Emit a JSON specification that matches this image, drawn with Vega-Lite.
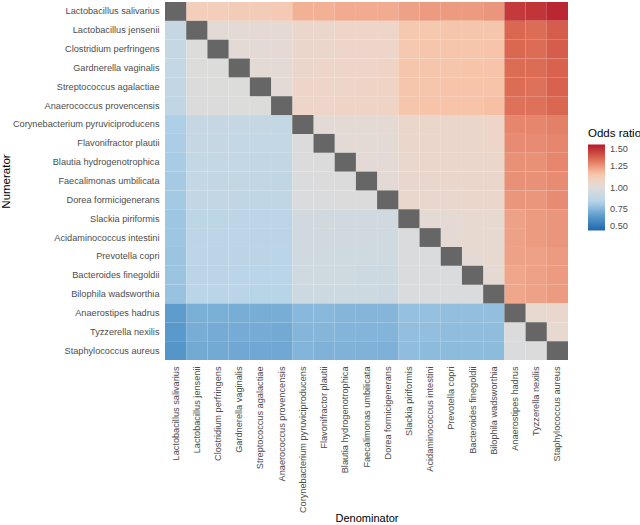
{
"$schema": "https://vega.github.io/schema/vega-lite/v6.json",
"width": 403, "height": 358,
"autosize": {"type": "none"},
"padding": {"left": 165, "top": 2, "right": 72, "bottom": 165},
"background": "white",
"config": {"view": {"stroke": null}, "font": "Liberation Sans", "legend": {"titleFontWeight": "normal"}, "axis": {"titleFontWeight": "normal"}},
"datasets": {
"species": [
{"k":0,"name":"Lactobacillus salivarius"},{"k":1,"name":"Lactobacillus jensenii"},{"k":2,"name":"Clostridium perfringens"},{"k":3,"name":"Gardnerella vaginalis"},{"k":4,"name":"Streptococcus agalactiae"},{"k":5,"name":"Anaerococcus provencensis"},{"k":6,"name":"Corynebacterium pyruviciproducens"},{"k":7,"name":"Flavonifractor plautii"},{"k":8,"name":"Blautia hydrogenotrophica"},{"k":9,"name":"Faecalimonas umbilicata"},{"k":10,"name":"Dorea formicigenerans"},{"k":11,"name":"Slackia piriformis"},{"k":12,"name":"Acidaminococcus intestini"},{"k":13,"name":"Prevotella copri"},{"k":14,"name":"Bacteroides finegoldii"},{"k":15,"name":"Bilophila wadsworthia"},{"k":16,"name":"Anaerostipes hadrus"},{"k":17,"name":"Tyzzerella nexilis"},{"k":18,"name":"Staphylococcus aureus"}
],
"cells": [
{"i":0,"j":0,"or":null},{"i":0,"j":1,"or":1.11},{"i":0,"j":2,"or":1.11},{"i":0,"j":3,"or":1.12},{"i":0,"j":4,"or":1.12},{"i":0,"j":5,"or":1.13},{"i":0,"j":6,"or":1.2},{"i":0,"j":7,"or":1.2},{"i":0,"j":8,"or":1.21},{"i":0,"j":9,"or":1.21},{"i":0,"j":10,"or":1.21},{"i":0,"j":11,"or":1.23},{"i":0,"j":12,"or":1.24},{"i":0,"j":13,"or":1.24},{"i":0,"j":14,"or":1.24},{"i":0,"j":15,"or":1.25},{"i":0,"j":16,"or":1.43},{"i":0,"j":17,"or":1.44},{"i":0,"j":18,"or":1.47},
{"i":1,"j":0,"or":0.9},{"i":1,"j":1,"or":null},{"i":1,"j":2,"or":1.02},{"i":1,"j":3,"or":1.02},{"i":1,"j":4,"or":1.03},{"i":1,"j":5,"or":1.03},{"i":1,"j":6,"or":1.06},{"i":1,"j":7,"or":1.06},{"i":1,"j":8,"or":1.07},{"i":1,"j":9,"or":1.07},{"i":1,"j":10,"or":1.07},{"i":1,"j":11,"or":1.14},{"i":1,"j":12,"or":1.14},{"i":1,"j":13,"or":1.15},{"i":1,"j":14,"or":1.15},{"i":1,"j":15,"or":1.15},{"i":1,"j":16,"or":1.34},{"i":1,"j":17,"or":1.33},{"i":1,"j":18,"or":1.36},
{"i":2,"j":0,"or":0.895},{"i":2,"j":1,"or":0.99},{"i":2,"j":2,"or":null},{"i":2,"j":3,"or":1.02},{"i":2,"j":4,"or":1.02},{"i":2,"j":5,"or":1.03},{"i":2,"j":6,"or":1.06},{"i":2,"j":7,"or":1.06},{"i":2,"j":8,"or":1.07},{"i":2,"j":9,"or":1.07},{"i":2,"j":10,"or":1.07},{"i":2,"j":11,"or":1.14},{"i":2,"j":12,"or":1.15},{"i":2,"j":13,"or":1.15},{"i":2,"j":14,"or":1.15},{"i":2,"j":15,"or":1.16},{"i":2,"j":16,"or":1.34},{"i":2,"j":17,"or":1.33},{"i":2,"j":18,"or":1.36},
{"i":3,"j":0,"or":0.89},{"i":3,"j":1,"or":0.99},{"i":3,"j":2,"or":0.99},{"i":3,"j":3,"or":null},{"i":3,"j":4,"or":1.02},{"i":3,"j":5,"or":1.02},{"i":3,"j":6,"or":1.06},{"i":3,"j":7,"or":1.07},{"i":3,"j":8,"or":1.07},{"i":3,"j":9,"or":1.07},{"i":3,"j":10,"or":1.08},{"i":3,"j":11,"or":1.15},{"i":3,"j":12,"or":1.15},{"i":3,"j":13,"or":1.15},{"i":3,"j":14,"or":1.16},{"i":3,"j":15,"or":1.16},{"i":3,"j":16,"or":1.33},{"i":3,"j":17,"or":1.33},{"i":3,"j":18,"or":1.35},
{"i":4,"j":0,"or":0.885},{"i":4,"j":1,"or":0.985},{"i":4,"j":2,"or":0.99},{"i":4,"j":3,"or":0.99},{"i":4,"j":4,"or":null},{"i":4,"j":5,"or":1.02},{"i":4,"j":6,"or":1.07},{"i":4,"j":7,"or":1.07},{"i":4,"j":8,"or":1.07},{"i":4,"j":9,"or":1.08},{"i":4,"j":10,"or":1.08},{"i":4,"j":11,"or":1.15},{"i":4,"j":12,"or":1.15},{"i":4,"j":13,"or":1.16},{"i":4,"j":14,"or":1.16},{"i":4,"j":15,"or":1.16},{"i":4,"j":16,"or":1.33},{"i":4,"j":17,"or":1.32},{"i":4,"j":18,"or":1.35},
{"i":5,"j":0,"or":0.88},{"i":5,"j":1,"or":0.985},{"i":5,"j":2,"or":0.985},{"i":5,"j":3,"or":0.99},{"i":5,"j":4,"or":0.99},{"i":5,"j":5,"or":null},{"i":5,"j":6,"or":1.07},{"i":5,"j":7,"or":1.07},{"i":5,"j":8,"or":1.08},{"i":5,"j":9,"or":1.08},{"i":5,"j":10,"or":1.08},{"i":5,"j":11,"or":1.15},{"i":5,"j":12,"or":1.16},{"i":5,"j":13,"or":1.16},{"i":5,"j":14,"or":1.16},{"i":5,"j":15,"or":1.17},{"i":5,"j":16,"or":1.32},{"i":5,"j":17,"or":1.32},{"i":5,"j":18,"or":1.34},
{"i":6,"j":0,"or":0.82},{"i":6,"j":1,"or":0.9},{"i":6,"j":2,"or":0.9},{"i":6,"j":3,"or":0.895},{"i":6,"j":4,"or":0.895},{"i":6,"j":5,"or":0.89},{"i":6,"j":6,"or":null},{"i":6,"j":7,"or":1.02},{"i":6,"j":8,"or":1.02},{"i":6,"j":9,"or":1.02},{"i":6,"j":10,"or":1.03},{"i":6,"j":11,"or":1.06},{"i":6,"j":12,"or":1.06},{"i":6,"j":13,"or":1.06},{"i":6,"j":14,"or":1.06},{"i":6,"j":15,"or":1.07},{"i":6,"j":16,"or":1.28},{"i":6,"j":17,"or":1.28},{"i":6,"j":18,"or":1.29},
{"i":7,"j":0,"or":0.815},{"i":7,"j":1,"or":0.895},{"i":7,"j":2,"or":0.895},{"i":7,"j":3,"or":0.89},{"i":7,"j":4,"or":0.89},{"i":7,"j":5,"or":0.89},{"i":7,"j":6,"or":0.985},{"i":7,"j":7,"or":null},{"i":7,"j":8,"or":1.02},{"i":7,"j":9,"or":1.02},{"i":7,"j":10,"or":1.02},{"i":7,"j":11,"or":1.06},{"i":7,"j":12,"or":1.06},{"i":7,"j":13,"or":1.06},{"i":7,"j":14,"or":1.06},{"i":7,"j":15,"or":1.07},{"i":7,"j":16,"or":1.27},{"i":7,"j":17,"or":1.27},{"i":7,"j":18,"or":1.28},
{"i":8,"j":0,"or":0.81},{"i":8,"j":1,"or":0.89},{"i":8,"j":2,"or":0.89},{"i":8,"j":3,"or":0.89},{"i":8,"j":4,"or":0.885},{"i":8,"j":5,"or":0.885},{"i":8,"j":6,"or":0.985},{"i":8,"j":7,"or":0.985},{"i":8,"j":8,"or":null},{"i":8,"j":9,"or":1.02},{"i":8,"j":10,"or":1.02},{"i":8,"j":11,"or":1.05},{"i":8,"j":12,"or":1.06},{"i":8,"j":13,"or":1.06},{"i":8,"j":14,"or":1.06},{"i":8,"j":15,"or":1.06},{"i":8,"j":16,"or":1.26},{"i":8,"j":17,"or":1.26},{"i":8,"j":18,"or":1.28},
{"i":9,"j":0,"or":0.805},{"i":9,"j":1,"or":0.89},{"i":9,"j":2,"or":0.885},{"i":9,"j":3,"or":0.885},{"i":9,"j":4,"or":0.885},{"i":9,"j":5,"or":0.88},{"i":9,"j":6,"or":0.98},{"i":9,"j":7,"or":0.985},{"i":9,"j":8,"or":0.985},{"i":9,"j":9,"or":null},{"i":9,"j":10,"or":1.02},{"i":9,"j":11,"or":1.05},{"i":9,"j":12,"or":1.05},{"i":9,"j":13,"or":1.06},{"i":9,"j":14,"or":1.06},{"i":9,"j":15,"or":1.06},{"i":9,"j":16,"or":1.26},{"i":9,"j":17,"or":1.26},{"i":9,"j":18,"or":1.27},
{"i":10,"j":0,"or":0.8},{"i":10,"j":1,"or":0.885},{"i":10,"j":2,"or":0.885},{"i":10,"j":3,"or":0.88},{"i":10,"j":4,"or":0.88},{"i":10,"j":5,"or":0.88},{"i":10,"j":6,"or":0.98},{"i":10,"j":7,"or":0.98},{"i":10,"j":8,"or":0.985},{"i":10,"j":9,"or":0.985},{"i":10,"j":10,"or":null},{"i":10,"j":11,"or":1.05},{"i":10,"j":12,"or":1.05},{"i":10,"j":13,"or":1.05},{"i":10,"j":14,"or":1.06},{"i":10,"j":15,"or":1.06},{"i":10,"j":16,"or":1.25},{"i":10,"j":17,"or":1.25},{"i":10,"j":18,"or":1.27},
{"i":11,"j":0,"or":0.79},{"i":11,"j":1,"or":0.865},{"i":11,"j":2,"or":0.865},{"i":11,"j":3,"or":0.86},{"i":11,"j":4,"or":0.86},{"i":11,"j":5,"or":0.86},{"i":11,"j":6,"or":0.945},{"i":11,"j":7,"or":0.945},{"i":11,"j":8,"or":0.94},{"i":11,"j":9,"or":0.94},{"i":11,"j":10,"or":0.94},{"i":11,"j":11,"or":null},{"i":11,"j":12,"or":1.03},{"i":11,"j":13,"or":1.03},{"i":11,"j":14,"or":1.04},{"i":11,"j":15,"or":1.04},{"i":11,"j":16,"or":1.23},{"i":11,"j":17,"or":1.24},{"i":11,"j":18,"or":1.25},
{"i":12,"j":0,"or":0.79},{"i":12,"j":1,"or":0.86},{"i":12,"j":2,"or":0.86},{"i":12,"j":3,"or":0.86},{"i":12,"j":4,"or":0.855},{"i":12,"j":5,"or":0.855},{"i":12,"j":6,"or":0.94},{"i":12,"j":7,"or":0.94},{"i":12,"j":8,"or":0.94},{"i":12,"j":9,"or":0.94},{"i":12,"j":10,"or":0.935},{"i":12,"j":11,"or":0.98},{"i":12,"j":12,"or":null},{"i":12,"j":13,"or":1.03},{"i":12,"j":14,"or":1.04},{"i":12,"j":15,"or":1.04},{"i":12,"j":16,"or":1.23},{"i":12,"j":17,"or":1.24},{"i":12,"j":18,"or":1.25},
{"i":13,"j":0,"or":0.785},{"i":13,"j":1,"or":0.86},{"i":13,"j":2,"or":0.855},{"i":13,"j":3,"or":0.855},{"i":13,"j":4,"or":0.855},{"i":13,"j":5,"or":0.85},{"i":13,"j":6,"or":0.94},{"i":13,"j":7,"or":0.935},{"i":13,"j":8,"or":0.935},{"i":13,"j":9,"or":0.935},{"i":13,"j":10,"or":0.935},{"i":13,"j":11,"or":0.98},{"i":13,"j":12,"or":0.98},{"i":13,"j":13,"or":null},{"i":13,"j":14,"or":1.03},{"i":13,"j":15,"or":1.04},{"i":13,"j":16,"or":1.23},{"i":13,"j":17,"or":1.23},{"i":13,"j":18,"or":1.24},
{"i":14,"j":0,"or":0.785},{"i":14,"j":1,"or":0.855},{"i":14,"j":2,"or":0.855},{"i":14,"j":3,"or":0.85},{"i":14,"j":4,"or":0.85},{"i":14,"j":5,"or":0.85},{"i":14,"j":6,"or":0.935},{"i":14,"j":7,"or":0.935},{"i":14,"j":8,"or":0.935},{"i":14,"j":9,"or":0.93},{"i":14,"j":10,"or":0.93},{"i":14,"j":11,"or":0.975},{"i":14,"j":12,"or":0.98},{"i":14,"j":13,"or":0.98},{"i":14,"j":14,"or":null},{"i":14,"j":15,"or":1.03},{"i":14,"j":16,"or":1.22},{"i":14,"j":17,"or":1.23},{"i":14,"j":18,"or":1.24},
{"i":15,"j":0,"or":0.78},{"i":15,"j":1,"or":0.85},{"i":15,"j":2,"or":0.85},{"i":15,"j":3,"or":0.85},{"i":15,"j":4,"or":0.845},{"i":15,"j":5,"or":0.845},{"i":15,"j":6,"or":0.93},{"i":15,"j":7,"or":0.93},{"i":15,"j":8,"or":0.93},{"i":15,"j":9,"or":0.93},{"i":15,"j":10,"or":0.925},{"i":15,"j":11,"or":0.975},{"i":15,"j":12,"or":0.975},{"i":15,"j":13,"or":0.98},{"i":15,"j":14,"or":0.98},{"i":15,"j":15,"or":null},{"i":15,"j":16,"or":1.22},{"i":15,"j":17,"or":1.23},{"i":15,"j":18,"or":1.24},
{"i":16,"j":0,"or":0.67},{"i":16,"j":1,"or":0.725},{"i":16,"j":2,"or":0.725},{"i":16,"j":3,"or":0.72},{"i":16,"j":4,"or":0.72},{"i":16,"j":5,"or":0.72},{"i":16,"j":6,"or":0.75},{"i":16,"j":7,"or":0.75},{"i":16,"j":8,"or":0.745},{"i":16,"j":9,"or":0.745},{"i":16,"j":10,"or":0.745},{"i":16,"j":11,"or":0.775},{"i":16,"j":12,"or":0.775},{"i":16,"j":13,"or":0.77},{"i":16,"j":14,"or":0.77},{"i":16,"j":15,"or":0.77},{"i":16,"j":16,"or":null},{"i":16,"j":17,"or":1.04},{"i":16,"j":18,"or":1.05},
{"i":17,"j":0,"or":0.66},{"i":17,"j":1,"or":0.72},{"i":17,"j":2,"or":0.715},{"i":17,"j":3,"or":0.715},{"i":17,"j":4,"or":0.715},{"i":17,"j":5,"or":0.71},{"i":17,"j":6,"or":0.745},{"i":17,"j":7,"or":0.745},{"i":17,"j":8,"or":0.74},{"i":17,"j":9,"or":0.74},{"i":17,"j":10,"or":0.74},{"i":17,"j":11,"or":0.77},{"i":17,"j":12,"or":0.77},{"i":17,"j":13,"or":0.765},{"i":17,"j":14,"or":0.765},{"i":17,"j":15,"or":0.765},{"i":17,"j":16,"or":0.985},{"i":17,"j":17,"or":null},{"i":17,"j":18,"or":1.04},
{"i":18,"j":0,"or":0.65},{"i":18,"j":1,"or":0.71},{"i":18,"j":2,"or":0.71},{"i":18,"j":3,"or":0.705},{"i":18,"j":4,"or":0.705},{"i":18,"j":5,"or":0.705},{"i":18,"j":6,"or":0.74},{"i":18,"j":7,"or":0.735},{"i":18,"j":8,"or":0.735},{"i":18,"j":9,"or":0.735},{"i":18,"j":10,"or":0.73},{"i":18,"j":11,"or":0.765},{"i":18,"j":12,"or":0.76},{"i":18,"j":13,"or":0.76},{"i":18,"j":14,"or":0.76},{"i":18,"j":15,"or":0.76},{"i":18,"j":16,"or":0.98},{"i":18,"j":17,"or":0.985},{"i":18,"j":18,"or":null}
]
},
"data": {"name": "cells"},
"transform": [
{"lookup": "i", "from": {"data": {"name": "species"}, "key": "k", "fields": ["name"]}, "as": ["Numerator"]},
{"lookup": "j", "from": {"data": {"name": "species"}, "key": "k", "fields": ["name"]}, "as": ["Denominator"]}
],
"encoding": {
"x": {"field": "Denominator", "type": "nominal",
"sort": ["Lactobacillus salivarius","Lactobacillus jensenii","Clostridium perfringens","Gardnerella vaginalis","Streptococcus agalactiae","Anaerococcus provencensis","Corynebacterium pyruviciproducens","Flavonifractor plautii","Blautia hydrogenotrophica","Faecalimonas umbilicata","Dorea formicigenerans","Slackia piriformis","Acidaminococcus intestini","Prevotella copri","Bacteroides finegoldii","Bilophila wadsworthia","Anaerostipes hadrus","Tyzzerella nexilis","Staphylococcus aureus"],
"scale": {"paddingInner": 0, "paddingOuter": 0},
"axis": {"title": "Denominator", "labelAngle": -90, "labelPadding": 6, "ticks": false, "domain": false, "grid": false, "labelFontSize": 9.2, "labelColor": "#4d4d4d", "labelLimit": 400, "titleFontSize": 11, "titleFontWeight": "normal", "titleColor": "#000000", "titlePadding": 0}},
"y": {"field": "Numerator", "type": "nominal",
"sort": ["Lactobacillus salivarius","Lactobacillus jensenii","Clostridium perfringens","Gardnerella vaginalis","Streptococcus agalactiae","Anaerococcus provencensis","Corynebacterium pyruviciproducens","Flavonifractor plautii","Blautia hydrogenotrophica","Faecalimonas umbilicata","Dorea formicigenerans","Slackia piriformis","Acidaminococcus intestini","Prevotella copri","Bacteroides finegoldii","Bilophila wadsworthia","Anaerostipes hadrus","Tyzzerella nexilis","Staphylococcus aureus"],
"scale": {"paddingInner": 0, "paddingOuter": 0},
"axis": {"title": "Numerator", "labelPadding": 6, "ticks": false, "domain": false, "grid": false, "labelFontSize": 9.2, "labelColor": "#4d4d4d", "labelLimit": 400, "titleFontSize": 11.5, "titleFontWeight": "normal", "titleColor": "#000000", "titlePadding": 1}}
},
"layer": [
{"transform": [{"filter": "datum.or != null"}],
"mark": {"type": "rect", "strokeWidth": 0},
"encoding": {"color": {"field": "or", "type": "quantitative", "title": "Odds ratio",
"scale": {"type": "linear", "domain": [0.5, 0.667, 0.833, 1, 1.08, 1.167, 1.333, 1.5], "range": ["#2166ac", "#5b9bcc", "#b5d4e9", "#dfdcda", "#efd4c6", "#f8c2a6", "#dc6a52", "#b2182b"], "interpolate": "rgb", "clamp": true},
"legend": {"orient": "none", "legendX": 423, "legendY": 126, "titleFontSize": 11.5, "titleFontWeight": "normal", "titleColor": "#000000", "titlePadding": 5, "labelFontSize": 9.2, "labelColor": "#4d4d4d", "gradientLength": 86, "gradientThickness": 17, "gradientStrokeWidth": 0, "values": [0.5, 0.75, 1, 1.25, 1.5], "format": ".2f", "labelOffset": 5}}}},
{"transform": [{"filter": "datum.or == null"}],
"mark": {"type": "rect", "color": "#666666", "strokeWidth": 0}}
]
}
